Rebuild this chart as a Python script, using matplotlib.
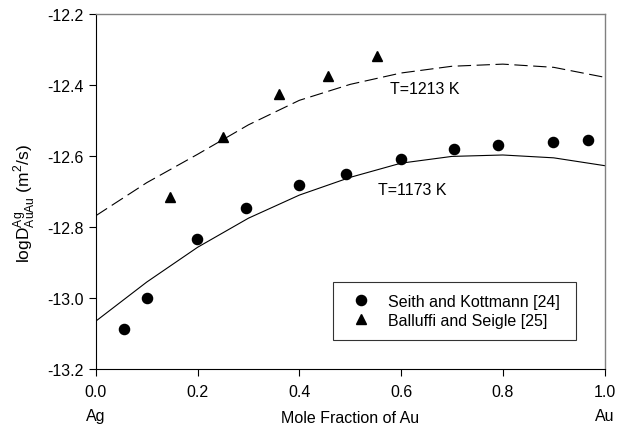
import matplotlib
matplotlib.use('Agg')
import matplotlib.pyplot as plt
import numpy as np

plt.rcParams['font.family'] = ['Liberation Sans', 'DejaVu Sans']
plt.rcParams['mathtext.fontset'] = 'custom'
plt.rcParams['mathtext.rm'] = 'Liberation Sans'

# Seith and Kottmann [24]
seith_x = [0.055, 0.10, 0.199, 0.295, 0.40, 0.492, 0.60, 0.705, 0.79, 0.898, 0.968]
seith_y = [-13.087, -13.000, -12.834, -12.746, -12.682, -12.651, -12.608, -12.580, -12.569, -12.561, -12.555]

# Balluffi and Seigle [25]
ball_x = [0.146, 0.25, 0.36, 0.457, 0.553]
ball_y = [-12.716, -12.546, -12.425, -12.375, -12.318]

# model curves
curve_x = [0.0, 0.1, 0.2, 0.3, 0.4, 0.5, 0.6, 0.7, 0.8, 0.9, 1.0]
t1213_y = [-12.768, -12.675, -12.595, -12.512, -12.443, -12.398, -12.366, -12.347, -12.341, -12.350, -12.378]
t1173_y = [-13.065, -12.955, -12.857, -12.775, -12.710, -12.660, -12.620, -12.601, -12.597, -12.605, -12.627]

fig = plt.figure(figsize=(6.35, 4.31), dpi=100)
ax = fig.add_axes([0.151, 0.1415, 0.801, 0.8235])

ax.plot(curve_x, t1213_y, color='black', linewidth=0.8, dashes=(12, 5))
ax.plot(curve_x, t1173_y, color='black', linewidth=0.8)
ax.plot(seith_x, seith_y, 'o', color='black', markersize=7.3, label='Seith and Kottmann [24]')
ax.plot(ball_x, ball_y, '^', color='black', markersize=6.5, label='Balluffi and Seigle [25]')

ax.text(0.579, -12.411, 'T=1213 K', fontsize=11.5, va='center')
ax.text(0.555, -12.693, 'T=1173 K', fontsize=11.5, va='center')

ax.set_xlim(0.0, 1.0)
ax.set_ylim(-13.2, -12.2)
ax.set_xticks(np.arange(0, 1.01, 0.2))
ax.set_yticks(np.arange(-13.2, -12.19, 0.2))
ax.set_xticklabels(['0.0', '0.2', '0.4', '0.6', '0.8', '1.0'])
ax.set_yticklabels(['-13.2', '-13.0', '-12.8', '-12.6', '-12.4', '-12.2'])
ax.tick_params(direction='out', length=5, width=0.8, labelsize=11.5)
ax.tick_params(axis='x', pad=6)
ax.tick_params(axis='y', pad=4)

for side in ['top', 'right']:
    ax.spines[side].set_color('gray')
    ax.spines[side].set_linewidth(1.0)
for side in ['left', 'bottom']:
    ax.spines[side].set_color('black')
    ax.spines[side].set_linewidth(0.8)

ax.set_xlabel('Mole Fraction of Au', fontsize=11.5, labelpad=8)
ax.set_ylabel(r'logD$^{\mathregular{Ag}}_{\mathregular{AuAu}}$ (m$^{\mathregular{2}}$/s)', fontsize=12.5)
ax.yaxis.set_label_coords(-0.114, 0.47)
ax.text(0.0, -0.13, 'Ag', transform=ax.transAxes, fontsize=11.5, ha='center', va='center')
ax.text(1.0, -0.13, 'Au', transform=ax.transAxes, fontsize=11.5, ha='center', va='center')

leg = ax.legend(loc='lower left', bbox_to_anchor=(0.4665, 0.0817, 0.478, 0.1746), mode='expand',
                borderaxespad=0, fontsize=11.5, frameon=True, fancybox=False, edgecolor='black',
                handletextpad=0.7, borderpad=0.75, labelspacing=0.25)
leg.get_frame().set_linewidth(0.8)

plt.savefig('out.png', dpi=100)
